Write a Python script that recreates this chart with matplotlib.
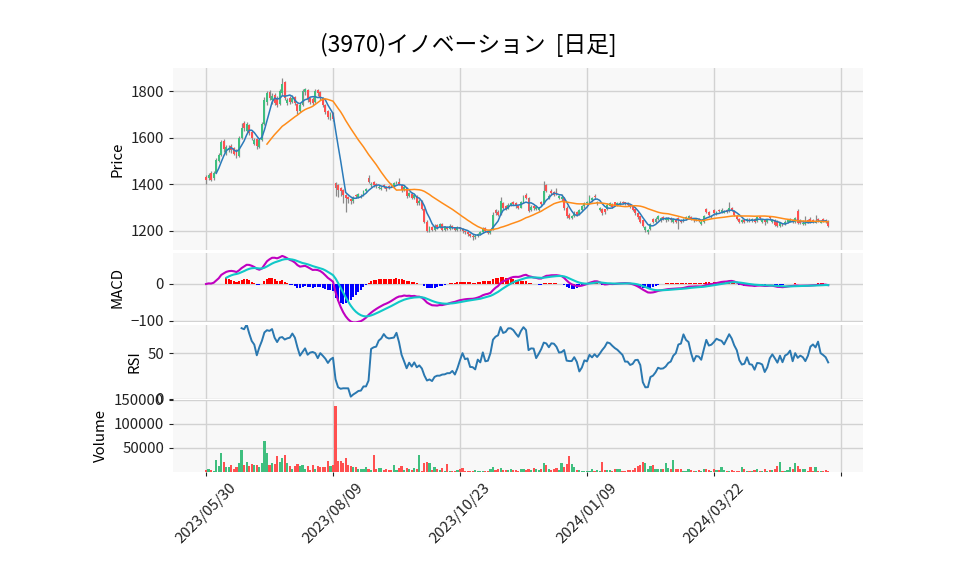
import numpy as np
import pandas as pd
import matplotlib
matplotlib.use("Agg")
import matplotlib.pyplot as plt
from matplotlib.ticker import MultipleLocator, FixedLocator

plt.rcParams['font.family'] = ['Noto Sans CJK JP', 'DejaVu Sans']

title = "(3970)イノベーション  [日足]"
tick_positions = [0, 50, 100, 150, 200, 250]
tick_labels = ["2023/05/30", "2023/08/09", "2023/10/23", "2024/01/09", "2024/03/22", ""]

opens = [1432,1425,1448,1425,1450,1500,1525,1585,1535,1545,
         1565,1555,1545,1522,1600,1665,1630,1655,1625,1575,
         1595,1560,1590,1660,1755,1795,1760,1785,1770,1745,
         1790,1840,1750,1770,1755,1775,1745,1715,1740,1795,
         1805,1770,1765,1755,1805,1795,1770,1740,1715,1690,
         1705,1405,1395,1385,1375,1355,1345,1335,1330,1355,
         1345,1345,1350,1370,1425,1395,1410,1400,1385,1380,
         1395,1388,1392,1400,1390,1405,1410,1395,1375,1385,
         1350,1360,1340,1350,1318,1328,1295,1240,1200,1215,
         1205,1225,1215,1228,1205,1218,1210,1222,1212,1205,
         1215,1210,1200,1195,1188,1180,1172,1180,1188,1195,
         1212,1200,1192,1210,1290,1282,1272,1320,1305,1296,
         1310,1325,1318,1308,1300,1325,1355,1340,1288,1305,
         1295,1290,1325,1320,1395,1340,1370,1365,1368,1342,
         1335,1340,1300,1270,1255,1262,1280,1272,1290,1305,
         1318,1325,1332,1350,1318,1290,1295,1292,1295,1308,
         1312,1322,1312,1315,1325,1322,1318,1312,1305,1292,
         1278,1262,1245,1205,1195,1210,1250,1240,1250,1245,
         1258,1245,1248,1255,1240,1250,1255,1248,1242,1250,
         1255,1258,1252,1245,1250,1230,1240,1295,1280,1258,
         1290,1272,1290,1280,1278,1288,1285,1298,1285,1262,
         1252,1238,1248,1242,1252,1244,1252,1242,1260,1240,
         1248,1238,1258,1240,1245,1240,1222,1232,1228,1240,
         1240,1248,1238,1285,1245,1230,1228,1245,1252,1245,
         1235,1252,1235,1250,1248,1240]
highs = [1440,1450,1455,1458,1512,1535,1592,1595,1568,1570,
         1572,1560,1550,1608,1665,1670,1668,1660,1632,1600,
         1600,1598,1668,1775,1800,1805,1790,1790,1780,1810,
         1855,1845,1770,1780,1785,1780,1750,1750,1810,1815,
         1810,1775,1775,1810,1810,1800,1775,1745,1720,1710,
         1710,1410,1400,1390,1380,1360,1350,1340,1348,1360,
         1362,1358,1375,1385,1440,1410,1415,1405,1398,1392,
         1400,1392,1398,1405,1410,1415,1425,1400,1395,1390,
         1368,1365,1358,1355,1338,1332,1300,1245,1222,1220,
         1228,1230,1235,1232,1222,1222,1228,1225,1215,1220,
         1218,1212,1205,1200,1192,1185,1185,1192,1200,1218,
         1215,1205,1210,1280,1295,1290,1345,1325,1310,1318,
         1325,1330,1322,1312,1330,1355,1362,1345,1310,1310,
         1310,1302,1330,1415,1400,1360,1380,1370,1385,1355,
         1360,1345,1305,1275,1270,1285,1285,1295,1310,1322,
         1330,1355,1345,1360,1330,1302,1300,1295,1318,1325,
         1318,1325,1325,1328,1330,1325,1322,1315,1310,1295,
         1282,1265,1248,1222,1210,1235,1255,1258,1268,1260,
         1262,1258,1260,1260,1255,1255,1260,1252,1255,1262,
         1268,1262,1256,1255,1254,1245,1268,1300,1285,1268,
         1295,1285,1295,1300,1290,1292,1325,1302,1290,1268,
         1256,1252,1252,1255,1256,1255,1256,1265,1264,1252,
         1252,1252,1262,1252,1250,1245,1240,1236,1245,1252,
         1255,1252,1260,1295,1250,1245,1262,1250,1258,1250,
         1270,1256,1248,1255,1252,1245]
lows = [1400,1418,1415,1420,1448,1495,1520,1540,1525,1538,
        1535,1525,1512,1518,1595,1630,1625,1610,1590,1570,
        1550,1555,1585,1655,1740,1760,1745,1740,1730,1740,
        1785,1760,1740,1745,1750,1740,1700,1710,1735,1785,
        1755,1745,1740,1750,1780,1760,1730,1700,1680,1675,
        1670,1350,1345,1350,1320,1280,1320,1315,1318,1340,
        1340,1340,1348,1365,1405,1390,1390,1385,1380,1375,
        1385,1370,1380,1388,1385,1400,1395,1368,1370,1340,
        1345,1335,1335,1312,1312,1290,1232,1195,1195,1198,
        1200,1210,1212,1200,1200,1205,1205,1208,1200,1200,
        1200,1192,1188,1180,1172,1160,1165,1175,1182,1190,
        1195,1185,1188,1205,1270,1265,1268,1295,1290,1292,
        1305,1310,1300,1295,1298,1320,1335,1280,1285,1290,
        1290,1285,1308,1315,1365,1335,1355,1348,1355,1335,
        1330,1290,1255,1250,1250,1258,1262,1268,1285,1300,
        1312,1320,1325,1338,1312,1285,1270,1272,1290,1305,
        1298,1305,1308,1310,1315,1312,1305,1298,1285,1270,
        1250,1232,1215,1195,1185,1205,1235,1235,1245,1240,
        1245,1240,1244,1240,1235,1235,1210,1232,1238,1245,
        1250,1245,1240,1242,1238,1225,1235,1275,1265,1255,
        1270,1268,1280,1275,1275,1278,1280,1285,1265,1245,
        1235,1235,1235,1238,1240,1240,1235,1238,1248,1236,
        1225,1235,1248,1236,1220,1215,1218,1220,1225,1236,
        1238,1235,1235,1228,1228,1225,1225,1235,1235,1235,
        1232,1240,1232,1238,1236,1218]
closes = [1420,1440,1420,1450,1505,1525,1580,1550,1560,1550,
          1545,1530,1520,1600,1640,1640,1660,1620,1600,1590,
          1565,1590,1660,1760,1790,1770,1780,1750,1740,1800,
          1830,1770,1760,1755,1770,1750,1715,1740,1800,1810,
          1765,1755,1750,1800,1790,1770,1740,1710,1690,1700,
          1680,1385,1375,1370,1352,1342,1335,1330,1342,1350,
          1358,1350,1370,1380,1410,1400,1395,1392,1390,1385,
          1390,1378,1385,1395,1405,1410,1400,1375,1388,1350,
          1362,1340,1352,1318,1330,1295,1240,1200,1215,1205,
          1222,1215,1228,1205,1218,1210,1222,1212,1205,1215,
          1210,1200,1195,1188,1180,1172,1180,1188,1195,1212,
          1200,1192,1205,1268,1276,1270,1328,1300,1296,1312,
          1320,1316,1305,1300,1326,1347,1340,1285,1304,1297,
          1304,1297,1315,1370,1372,1350,1362,1355,1360,1350,
          1345,1300,1265,1255,1262,1275,1270,1290,1305,1318,
          1326,1347,1340,1345,1326,1297,1278,1280,1311,1319,
          1304,1312,1319,1321,1319,1318,1311,1304,1290,1276,
          1258,1240,1222,1215,1202,1230,1240,1250,1262,1255,
          1250,1252,1254,1247,1250,1240,1245,1240,1250,1258,
          1262,1250,1247,1250,1244,1240,1262,1280,1270,1262,
          1276,1280,1285,1290,1285,1283,1297,1290,1268,1250,
          1240,1247,1240,1250,1247,1250,1240,1260,1254,1247,
          1240,1247,1254,1247,1226,1222,1233,1226,1240,1247,
          1247,1240,1254,1233,1233,1236,1233,1240,1240,1240,
          1244,1247,1240,1244,1240,1222]
volumes = [5000,7000,5000,3000,24000,13000,40000,21000,11000,11000,
           15000,6000,10000,19000,46000,15000,21000,13000,17000,15000,
           15000,11000,18000,65000,40000,15000,19000,17000,34000,21000,
           29000,36000,19000,12000,7000,12000,17000,12000,15000,7000,
           12000,5000,15000,6000,12000,11000,11000,11000,23000,12000,
           15000,138000,23000,23000,18000,29000,15000,13000,11000,10000,
           7000,7000,7000,11000,7000,4000,36000,7000,9000,9000,
           5000,7000,4000,4000,15000,4000,9000,12000,4000,9000,
           7000,4000,8000,7000,36000,3000,19000,21000,18000,4000,
           11000,7000,4000,9000,3000,17000,3000,2000,2000,5000,
           7000,8000,2000,3000,3000,3000,5000,3000,3000,3000,
           3000,3000,6000,11000,5000,7000,8000,5000,5000,5000,
           7000,4000,4000,3000,6000,6000,4000,7000,4000,8000,
           6000,5000,6000,19000,15000,6000,4000,6000,8000,4000,
           19000,10000,17000,33000,17000,11000,4000,4000,2000,2000,
           2000,2000,6000,2000,4000,2000,21000,5000,4000,4000,
           2000,6000,6000,6000,2000,2000,4000,4000,4000,8000,
           12000,15000,20000,19000,6000,12000,14000,6000,6000,6000,
           7000,19000,8000,6000,25000,7000,7000,6000,2000,2000,
           6000,4000,2000,2000,4000,2000,6000,6000,4000,2000,
           6000,4000,4000,11000,4000,2000,2000,4000,2000,2000,
           2000,11000,6000,2000,2000,2000,4000,6000,2000,2000,
           6000,2000,4000,4000,7000,12000,21000,2000,2000,4000,
           11000,6000,19000,12000,7000,7000,7000,2000,11000,2000,
           11000,2000,2000,2000,4000,2000]

df = pd.DataFrame({"Open": opens, "High": highs, "Low": lows,
                   "Close": closes, "Volume": volumes})
n = len(df)
x = np.arange(n)
close = df["Close"]

ma5 = close.rolling(5).mean()
ma25 = close.rolling(25).mean()
ema12 = close.ewm(span=12, adjust=False).mean()
ema26 = close.ewm(span=26, adjust=False).mean()
macd = ema12 - ema26
signal = macd.ewm(span=9, adjust=False, min_periods=9).mean()
hist = macd - signal
delta = close.diff()
gain = delta.clip(lower=0).rolling(14).mean()
loss = (-delta.clip(upper=0)).rolling(14).mean()
rsi = 100 - 100 / (1 + gain / loss)

UP = "#3fbf7f"
DOWN = "#ff5050"
FACE = "#f8f8f8"
GRID = "#d2d2d2"
TICK_FS = 10.8

fig = plt.figure(figsize=(9.58, 5.75), dpi=100)
L, W = 173 / 958, 690 / 958
def rect(top, bottom):
    return [L, 1 - bottom / 575, W, (bottom - top) / 575]

ax_p = fig.add_axes(rect(68, 250))
ax_m = fig.add_axes(rect(253, 322), sharex=ax_p)
ax_r = fig.add_axes(rect(325, 398.5), sharex=ax_p)
ax_v = fig.add_axes(rect(399.5, 472), sharex=ax_p)

for ax in (ax_p, ax_m, ax_r, ax_v):
    ax.set_facecolor(FACE)
    ax.grid(True, color=GRID, lw=1.0)
    ax.set_axisbelow(True)
    for s in ax.spines.values():
        s.set_visible(False)
    ax.tick_params(labelsize=TICK_FS, length=3, width=0.8, colors="#222222")
    ax.xaxis.set_major_locator(FixedLocator(tick_positions))

up = df["Close"] >= df["Open"]
colors = np.where(up, UP, DOWN)

# candles
ax_p.vlines(x, df["Low"], df["High"], color="#8a8a8a", lw=0.9, zorder=2)
body = (df["Close"] - df["Open"]).abs().clip(lower=1.5)
bottom = np.minimum(df["Open"], df["Close"])
ax_p.bar(x, body, bottom=bottom, width=0.75, color=colors, zorder=3, lw=0)
ax_p.plot(x, ma5, color="#2b7bba", lw=1.1, zorder=4)
ax_p.plot(x, ma25, color="#ff8c1a", lw=1.1, zorder=4)
ax_p.set_ylim(1118, 1899)
ax_p.yaxis.set_major_locator(MultipleLocator(200))
ax_p.set_ylabel("Price", fontsize=TICK_FS)

# MACD
hcol = np.where(hist >= 0, "#ff0000", "#0000ff")
ax_m.bar(x, hist, width=0.8, color=hcol, lw=0, zorder=2)
ax_m.plot(x, macd, color="#c000c0", lw=1.5, zorder=3)
ax_m.plot(x, signal, color="#10c8c8", lw=1.5, zorder=3)
ax_m.set_ylim(-103, 84)
ax_m.yaxis.set_major_locator(MultipleLocator(100))
ax_m.set_ylabel("MACD", fontsize=TICK_FS)

# RSI
ax_r.plot(x, rsi, color="#2a78b0", lw=1.4)
ax_r.set_ylim(0, 81)
ax_r.yaxis.set_major_locator(MultipleLocator(50))
ax_r.set_ylabel("RSI", fontsize=TICK_FS)

# Volume
ax_v.bar(x, df["Volume"], width=0.85, color=colors, lw=0)
ax_v.set_ylim(0, 150500)
ax_v.yaxis.set_major_locator(FixedLocator([50000, 100000, 150000]))
ax_v.set_ylabel("Volume", fontsize=TICK_FS)

ax_p.set_xlim(-13, 258.7)
for ax in (ax_p, ax_m, ax_r):
    ax.tick_params(axis="x", labelbottom=False, length=0)
ax_v.set_xticklabels(tick_labels, rotation=45, ha="center")

fig.text(0.489, 0.922, title, ha="center", va="center", fontsize=16.4)

fig.savefig("out.png", dpi=100)
